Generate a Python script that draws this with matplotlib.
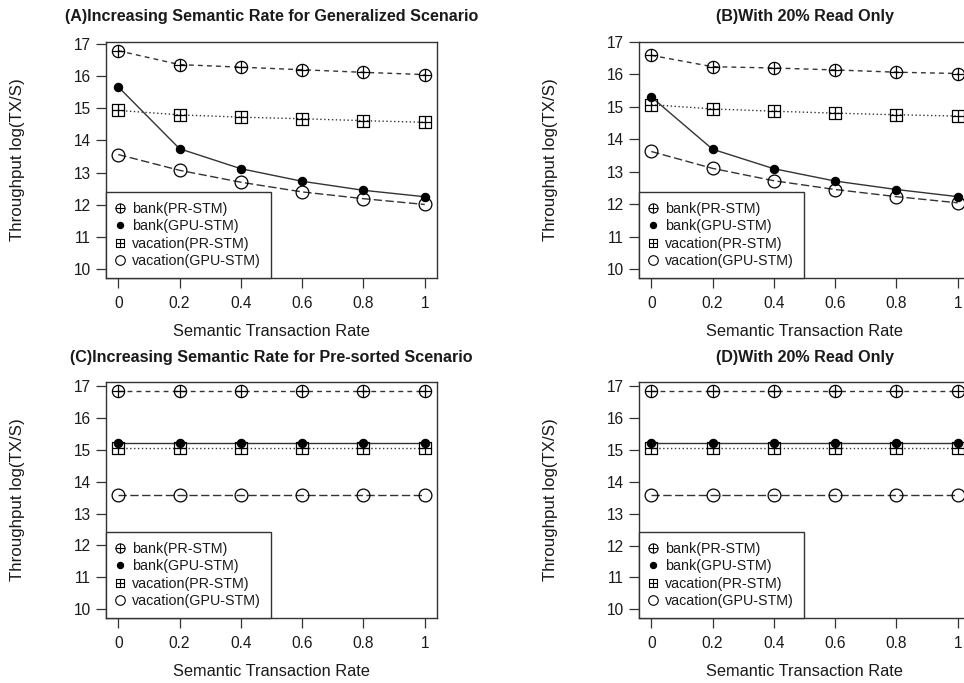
import matplotlib
matplotlib.use("Agg")
import matplotlib.pyplot as plt
from matplotlib.path import Path
from matplotlib.lines import Line2D
import numpy as np

plt.rcParams['font.family'] = ['Liberation Sans', 'DejaVu Sans']

rates = [0, 0.2, 0.4, 0.6, 0.8, 1.0]
xtick_labels = ['0', '0.2', '0.4', '0.6', '0.8', '1']
series_names = ['bank(PR-STM)', 'bank(GPU-STM)', 'vacation(PR-STM)', 'vacation(GPU-STM)']

# Panel A
a_bank_pr = [16.78, 16.35, 16.27, 16.19, 16.11, 16.04]
a_bank_gpu = [15.66, 13.74, 13.12, 12.73, 12.45, 12.25]
a_vac_pr = [14.93, 14.79, 14.72, 14.67, 14.61, 14.56]
a_vac_gpu = [13.56, 13.07, 12.70, 12.40, 12.19, 12.01]
# Panel B
b_bank_pr = [16.59, 16.24, 16.20, 16.14, 16.07, 16.03]
b_bank_gpu = [15.31, 13.70, 13.10, 12.72, 12.46, 12.24]
b_vac_pr = [15.07, 14.94, 14.87, 14.81, 14.76, 14.72]
b_vac_gpu = [13.63, 13.11, 12.73, 12.46, 12.24, 12.05]
# Panel C
c_bank_pr = [16.85, 16.85, 16.85, 16.85, 16.85, 16.85]
c_bank_gpu = [15.21, 15.21, 15.21, 15.21, 15.21, 15.21]
c_vac_pr = [15.06, 15.06, 15.06, 15.06, 15.06, 15.06]
c_vac_gpu = [13.59, 13.59, 13.59, 13.59, 13.59, 13.59]
# Panel D
d_bank_pr = [16.86, 16.86, 16.86, 16.86, 16.86, 16.86]
d_bank_gpu = [15.22, 15.22, 15.22, 15.22, 15.22, 15.22]
d_vac_pr = [15.06, 15.06, 15.06, 15.06, 15.06, 15.06]
d_vac_gpu = [13.60, 13.60, 13.60, 13.60, 13.60, 13.60]

titles = ['(A)Increasing Semantic Rate for Generalized Scenario',
          '(B)With 20% Read Only',
          '(C)Increasing Semantic Rate for Pre-sorted Scenario',
          '(D)With 20% Read Only']
xlabel = 'Semantic Transaction Rate'
ylabel = 'Throughput log(TX/S)'
ymin_fixed = 10

panels = [
    (a_bank_pr, a_bank_gpu, a_vac_pr, a_vac_gpu),
    (b_bank_pr, b_bank_gpu, b_vac_pr, b_vac_gpu),
    (c_bank_pr, c_bank_gpu, c_vac_pr, c_vac_gpu),
    (d_bank_pr, d_bank_gpu, d_vac_pr, d_vac_gpu),
]

# custom markers
M, L, C = Path.MOVETO, Path.LINETO, Path.CLOSEPOLY
cross = Path([(-1, 0), (1, 0), (0, -1), (0, 1)], [M, L, M, L])
circle_plus = Path.make_compound_path(Path.unit_circle(), cross)
square = Path([(-1, -1), (1, -1), (1, 1), (-1, 1), (-1, -1)], [M, L, L, L, C])
square_plus = Path.make_compound_path(square, cross)

line_col = '#333333'
styles = [
    dict(marker=circle_plus, ms=8.8, mfc='none', mec='black', mew=0.9, dashes=(3.5, 3)),
    dict(marker='o', ms=6.0, mfc='black', mec='black', mew=0.8, dashes=None),
    dict(marker=square_plus, ms=8.6, mfc='none', mec='black', mew=0.9, dashes=(1, 1.8)),
    dict(marker='o', ms=9.2, mfc='none', mec='black', mew=0.9, dashes=(6, 2.5)),
]

W, H = 964, 683
fig = plt.figure(figsize=(W / 100, H / 100), dpi=100)

boxes = [(106, 42), (639, 42), (106, 382), (639, 382)]
aw, ah = 331, 236

for i, (data, (px, py)) in enumerate(zip(panels, boxes)):
    ax = fig.add_axes([px / W, 1 - (py + ah) / H, aw / W, ah / H])
    for vals, st in zip(data, styles):
        ln, = ax.plot(rates, vals, color=line_col, lw=1.0, marker=st['marker'],
                      ms=st['ms'], mfc=st['mfc'], mec=st['mec'], mew=st['mew'],
                      solid_capstyle='butt', dash_capstyle='butt')
        if st['dashes'] is not None:
            ln.set_dashes(st['dashes'])
    ymax = max(max(v) for v in data)
    rng = ymax - ymin_fixed
    ax.set_ylim(ymin_fixed - 0.04 * rng, ymax + 0.04 * rng)
    ax.set_xlim(-0.04, 1.04)
    ax.set_xticks(rates)
    ax.set_xticklabels(xtick_labels)
    ax.set_yticks(range(10, 18))
    ax.tick_params(axis='both', direction='out', length=7, width=0.9, labelsize=11.2,
                   color='#333333', labelcolor='#1a1a1a')
    ax.tick_params(axis='y', pad=4)
    ax.tick_params(axis='x', pad=6)
    for s in ax.spines.values():
        s.set_linewidth(1.0)
        s.set_color('#333333')
    handles = [Line2D([], [], ls='none', marker=st['marker'], ms=st['ms'] * 0.75,
                      mfc=st['mfc'], mec=st['mec'], mew=0.8) for st in styles]
    leg = ax.legend(handles, series_names, loc='lower left', borderaxespad=0,
                    fancybox=False, framealpha=1, edgecolor='#333333', fontsize=10.3,
                    handlelength=0.5, handletextpad=0.6, labelspacing=0.23,
                    borderpad=0.7)
    leg.get_frame().set_linewidth(1.0)
    for t in leg.get_texts():
        t.set_color('#1a1a1a')
    cx = (px + aw / 2) / W
    fig.text(cx, 1 - (py - 25) / H, titles[i], ha='center', va='center',
             fontsize=11.6, fontweight='bold', color='#1a1a1a')
    fig.text(cx, 1 - (py + 290) / H, xlabel, ha='center', va='center',
             fontsize=11.8, color='#1a1a1a')
    fig.text((px - 88) / W, 1 - (py + ah / 2) / H, ylabel, ha='center', va='center',
             rotation=90, fontsize=12.2, color='#1a1a1a')

fig.savefig('out.png', dpi=100, facecolor='white')
